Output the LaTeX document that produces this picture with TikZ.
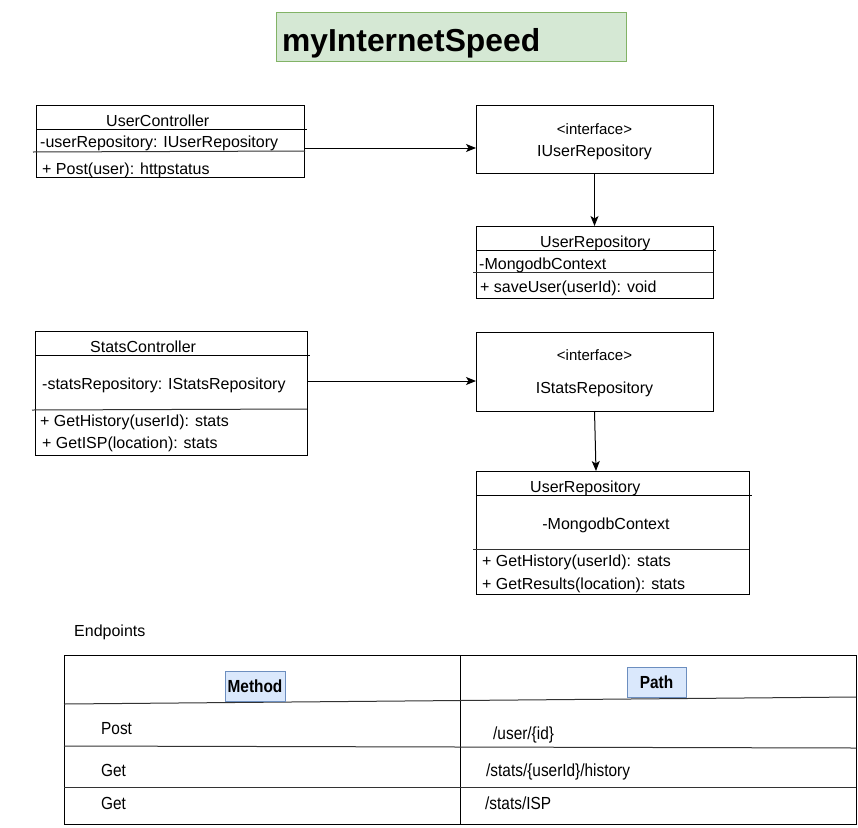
\documentclass[tikz,border=0pt]{standalone}
\usepackage{fontspec}
\setmainfont{Liberation Sans}
\newfontfamily\narrowfont[FakeStretch=0.88]{Liberation Sans}
\usetikzlibrary{arrows.meta,calc}
\definecolor{titlefill}{HTML}{D5E8D4}
\definecolor{titledraw}{HTML}{82B366}
\definecolor{hdrfill}{HTML}{DAE8FC}
\definecolor{hdrdraw}{HTML}{6C8EBF}
\newcommand{\umlfont}{\fontsize{16}{19}\selectfont}
\newcommand{\ifacefont}{\fontsize{15}{18}\selectfont}
\newcommand{\tblfont}{\narrowfont\fontsize{17.5}{20}\selectfont}
\newcommand{\tblbold}{\narrowfont\bfseries\fontsize{17.5}{20}\selectfont}
\newcommand{\ttlfont}{\bfseries\fontsize{31.8}{36}\selectfont}
\begin{document}
\begin{tikzpicture}[x=1pt,y=-1pt,
  umlbox/.style={draw, line width=1pt, inner sep=0pt, outer sep=0pt, anchor=north west},
  txt/.style={inner sep=0pt, anchor=base west, font=\umlfont},
  ctxt/.style={inner sep=0pt, anchor=base, font=\umlfont},
  itxt/.style={inner sep=0pt, anchor=base, font=\ifacefont},
  ttxt/.style={inner sep=0pt, anchor=base west, font=\tblfont},
  hdrbox/.style={draw=hdrdraw, fill=hdrfill, line width=1pt, inner sep=0pt, font=\tblbold},
  divider/.style={line width=1pt},
  sdivider/.style={line width=1pt, draw=black!80},
  arr/.style={line width=1pt, -{Stealth[length=10pt,width=8pt,inset=2.5pt]}}
]
\useasboundingbox (0,0) rectangle (858,827);

% Title
\node[umlbox, draw=titledraw, fill=titlefill, minimum width=350pt, minimum height=49pt] (title) at (276,12) {};
\node[inner sep=0pt, anchor=base west, font=\ttlfont] (ttltext) at (282,51) {myInternetSpeed};

% UserController
\node[umlbox, minimum width=268pt, minimum height=72pt] (uc) at (36,105) {};
\draw[divider] (36,129) -- (307,129);
\draw[sdivider] (33,152) -- (305,151);
\node[txt] (uct) at (106,126) {UserController};
\node[txt] (uca) at (40,147) {-userRepository: IUserRepository};
\node[txt] (ucm) at (42,174) {+ Post(user): httpstatus};

% IUserRepository
\node[umlbox, minimum width=237pt, minimum height=68pt] (iur) at (476,105) {};
\node[itxt] (iurs) at (594.5,134) {<interface>};
\node[ctxt] (iurn) at (594.5,156) {IUserRepository};

% UserRepository
\node[umlbox, minimum width=237pt, minimum height=72pt] (ur) at (476,226) {};
\draw[divider] (476,250) -- (716,250);
\draw[sdivider] (473,272) -- (713,272);
\node[txt] (urt) at (540,247) {UserRepository};
\node[txt] (ura) at (479,269) {-MongodbContext};
\node[txt] (urm) at (480,292) {+ saveUser(userId): void};

% StatsController
\node[umlbox, minimum width=272pt, minimum height=124pt] (sc) at (35,331) {};
\draw[divider] (35,355) -- (310,355);
\draw[sdivider] (32,410) -- (307,409);
\node[txt] (sct) at (90,352) {StatsController};
\node[txt] (sca) at (42,389) {-statsRepository: IStatsRepository};
\node[txt] (scm1) at (40,426) {+ GetHistory(userId): stats};
\node[txt] (scm2) at (42,448) {+ GetISP(location): stats};

% IStatsRepository
\node[umlbox, minimum width=237pt, minimum height=79pt] (isr) at (476,332) {};
\node[itxt] (isrs) at (594.5,360) {<interface>};
\node[ctxt] (isrn) at (594.5,393) {IStatsRepository};

% second UserRepository
\node[umlbox, minimum width=273pt, minimum height=123pt] (ur2) at (476,471) {};
\draw[divider] (476,495) -- (752,495);
\draw[sdivider] (473,549) -- (749,549);
\node[txt] (ur2t) at (530,492) {UserRepository};
\node[ctxt] (ur2a) at (606,529) {-MongodbContext};
\node[txt] (ur2m1) at (482,566) {+ GetHistory(userId): stats};
\node[txt] (ur2m2) at (482,589) {+ GetResults(location): stats};

% connectors
\coordinate (c1) at ($(uc.north east)+(0,43)$);
\draw[arr] (c1) -- (c1 -| iur.west);
\draw[arr] (iur.south) -- (ur.north);
\coordinate (c2) at ($(sc.north east)+(0,50)$);
\draw[arr] (c2) -- (c2 -| isr.west);
\draw[arr] (isr.south) -- ($(ur2.north west)+(120,0)$);

% Endpoints
\node[inner sep=0pt, anchor=base west, font=\fontsize{16}{19}\selectfont] (ep) at (74,636) {Endpoints};
\node[umlbox, minimum width=792pt, minimum height=169pt] (tbl) at (64,655) {};
\draw[divider] (460,655) -- (460,824);
\draw[sdivider] (64,704) -- (856,697);
\draw[sdivider] (64,746) -- (856,748);
\draw[sdivider] (64,787) -- (856,787);
\node[hdrbox, minimum width=60pt, minimum height=30pt] (mh) at (255,686) {Method};
\node[hdrbox, minimum width=59pt, minimum height=30pt] (ph) at (656.5,682) {Path};
\node[ttxt] (r1a) at (101,734) {Post};
\node[ttxt] (r1b) at (493,739) {/user/\{id\}};
\node[ttxt] (r2a) at (101,776) {Get};
\node[ttxt] (r2b) at (486,776) {/stats/\{userId\}/history};
\node[ttxt] (r3a) at (101,809) {Get};
\node[ttxt] (r3b) at (485,809) {/stats/ISP};
\end{tikzpicture}
\end{document}
